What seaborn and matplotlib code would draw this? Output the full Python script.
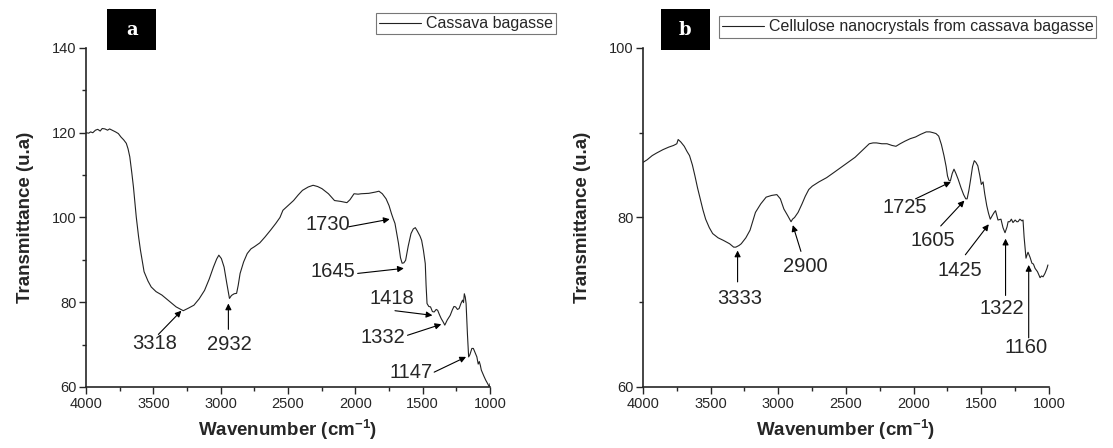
import matplotlib
matplotlib.use("Agg")
import matplotlib.pyplot as plt
from matplotlib.patches import Rectangle
from matplotlib.ticker import MultipleLocator
import seaborn as sns
import pandas as pd

# ===== DATA =====

wn_a = [4000, 3980, 3966, 3950, 3930, 3913, 3895, 3880, 3860, 3840, 3825, 3807,
        3781, 3760, 3741, 3720, 3701, 3688, 3675, 3660, 3648, 3627, 3610, 3596,
        3569, 3540, 3516, 3480, 3437, 3380, 3331, 3278, 3240, 3199, 3160, 3120,
        3085, 3054, 3030, 3014, 2995, 2975, 2955, 2935, 2920, 2900, 2882, 2870,
        2856, 2830, 2803, 2775, 2750, 2710, 2671, 2630, 2591, 2560, 2538, 2500,
        2459, 2425, 2393, 2350, 2314, 2280, 2248, 2200, 2155, 2110, 2063, 2040,
        2010, 1980, 1957, 1900, 1851, 1825, 1800, 1772, 1750, 1732, 1719, 1706,
        1693, 1680, 1665, 1653, 1640, 1627, 1608, 1587, 1570, 1555, 1540, 1520,
        1508, 1495, 1481, 1475, 1468, 1455, 1442, 1428, 1415, 1400, 1389, 1375,
        1362, 1349, 1336, 1318, 1296, 1280, 1268, 1256, 1242, 1230, 1215, 1204,
        1197, 1191, 1184, 1178, 1168, 1159, 1150, 1143, 1135, 1124, 1112, 1098,
        1088, 1080, 1072, 1065, 1058, 1045, 1032, 1018, 1005, 1000]
tr_a = [120.0, 119.9, 120.2, 120.0, 120.6, 120.8, 120.4, 121.0, 120.9, 120.6, 120.9, 120.6,
        120.2, 119.8, 119.0, 118.3, 117.5, 116.2, 114.3, 110.5, 107.2, 100.1, 95.5, 92.3,
        87.2, 85.0, 83.6, 82.5, 81.7, 80.2, 78.9, 78.0, 78.6, 79.3, 80.8, 82.8,
        85.5, 88.3, 90.2, 91.1, 90.3, 88.3, 84.5, 80.9, 81.6, 82.0, 82.1, 84.0,
        86.8, 89.5, 91.5, 92.6, 93.1, 94.0, 95.4, 97.0, 98.6, 100.0, 101.7, 102.8,
        104.0, 105.3, 106.4, 107.2, 107.6, 107.3, 106.8, 105.6, 104.0, 103.8, 103.5, 104.2,
        105.6, 105.5, 105.6, 105.7, 106.0, 106.2, 105.6, 104.4, 102.8, 100.9, 99.7, 98.6,
        96.3, 93.9, 90.5, 89.2, 89.3, 89.9, 93.2, 96.2, 97.3, 97.6, 96.8, 95.6,
        94.6, 92.3, 89.1, 84.0, 79.7, 79.0, 78.9, 77.8, 77.7, 78.3, 78.1, 77.0,
        76.1, 75.4, 74.6, 75.8, 76.9, 78.2, 79.0, 78.9, 78.3, 78.5, 79.8, 80.5,
        79.9, 82.0, 81.2, 79.7, 72.5, 67.1, 67.6, 68.3, 69.1, 69.1, 68.2, 67.1,
        65.4, 66.0, 65.1, 64.0, 63.5, 62.5, 61.6, 60.8, 60.0, 60.8]

wn_b = [4000, 3970, 3932, 3900, 3853, 3810, 3774, 3750, 3740, 3734, 3720, 3695,
        3675, 3656, 3635, 3616, 3597, 3577, 3557, 3537, 3510, 3485, 3445, 3406,
        3360, 3330, 3314, 3290, 3274, 3240, 3209, 3190, 3169, 3130, 3090, 3050,
        3011, 2985, 2959, 2930, 2906, 2895, 2880, 2854, 2825, 2801, 2775, 2749,
        2700, 2643, 2590, 2538, 2485, 2433, 2380, 2328, 2300, 2275, 2235, 2197,
        2160, 2131, 2100, 2065, 2025, 1986, 1950, 1907, 1880, 1855, 1835, 1815,
        1795, 1776, 1760, 1750, 1740, 1729, 1715, 1702, 1688, 1671, 1650, 1631,
        1615, 1605, 1592, 1579, 1565, 1552, 1540, 1526, 1512, 1500, 1487, 1475,
        1460, 1447, 1434, 1420, 1405, 1395, 1385, 1377, 1355, 1340, 1325, 1310,
        1302, 1290, 1278, 1266, 1250, 1238, 1229, 1215, 1200, 1192, 1184, 1170,
        1162, 1155, 1140, 1126, 1115, 1103, 1085, 1066, 1055, 1044, 1030, 1015, 1008]
tr_b = [86.5, 86.8, 87.3, 87.6, 88.0, 88.3, 88.5, 88.7, 89.2, 89.1, 88.9, 88.4,
        87.8, 87.3, 86.2, 84.9, 83.5, 82.2, 80.9, 79.8, 78.8, 78.1, 77.6, 77.3,
        76.9, 76.5, 76.5, 76.7, 76.9, 77.6, 78.5, 79.5, 80.6, 81.6, 82.4, 82.6,
        82.7, 82.2, 81.0, 80.2, 79.5, 79.8, 80.0, 80.6, 81.6, 82.5, 83.3, 83.7,
        84.2, 84.7, 85.3, 85.9, 86.5, 87.1, 87.9, 88.7, 88.8, 88.8, 88.7, 88.7,
        88.5, 88.4, 88.7, 89.0, 89.3, 89.5, 89.8, 90.1, 90.1, 90.0, 89.9, 89.6,
        88.6, 87.3, 86.0, 84.9, 84.4, 84.3, 85.2, 85.7, 85.2, 84.5, 83.5, 82.7,
        82.2, 82.2, 83.2, 84.5, 86.0, 86.7, 86.5, 86.1, 85.0, 83.9, 84.2, 82.8,
        81.4, 80.5, 79.8, 80.2, 80.6, 80.8, 80.2, 79.7, 79.8, 78.8, 78.2, 78.9,
        79.5, 79.5, 79.8, 79.4, 79.7, 79.5, 79.5, 79.8, 79.6, 79.7, 77.7, 75.2,
        75.6, 75.9, 75.3, 74.6, 74.5, 74.0, 73.6, 72.9, 73.1, 73.0, 73.4, 74.0, 74.4]

# peak labels: (label, text x, text y, arrow tail x, tail y, arrow head x, head y)
peaks_a = [("3318", 3490, 70.2, 3463, 72.4, 3292, 78.0),
           ("2932", 2935, 70.1, 2943, 73.6, 2943, 79.7),
           ("1730", 2208, 98.3, 2050, 97.8, 1745, 99.6),
           ("1645", 2168, 87.2, 1983, 86.8, 1640, 88.0),
           ("1418", 1727, 80.9, 1706, 78.0, 1428, 76.9),
           ("1332", 1798, 71.6, 1613, 72.2, 1362, 74.8),
           ("1147", 1587, 63.5, 1415, 63.5, 1178, 67.1)]
peaks_b = [("3333", 3282, 70.4, 3301, 72.4, 3301, 76.1),
           ("2900", 2801, 74.2, 2833, 76.0, 2893, 79.1),
           ("1725", 2065, 81.2, 1986, 82.2, 1725, 84.2),
           ("1605", 1855, 77.3, 1800, 79.0, 1625, 82.0),
           ("1425", 1658, 73.8, 1618, 75.6, 1445, 79.2),
           ("1322", 1350, 69.3, 1321, 70.8, 1321, 77.5),
           ("1160", 1166, 64.7, 1150, 65.8, 1150, 74.4)]

df_a = pd.DataFrame({"wn": wn_a, "tr": tr_a})
df_b = pd.DataFrame({"wn": wn_b, "tr": tr_b})

# ===== STYLE =====

sns.set_style("ticks")
plt.rcParams["font.family"] = ["Liberation Sans", "DejaVu Sans"]

fig = plt.figure(figsize=(11.13, 4.48), dpi=100)
ax_a = fig.add_axes([0.0773, 0.1362, 0.3630, 0.7567])
ax_b = fig.add_axes([0.5777, 0.1362, 0.3648, 0.7567])


def draw_panel(ax, df, ylim, legend_label, peaks, letter, box_x, legend_box):
    sns.lineplot(data=df, x="wn", y="tr", ax=ax, color="#222222", lw=0.8,
                 label=legend_label)
    ax.set_xlim(4000, 1000)
    ax.set_ylim(*ylim)
    ax.xaxis.set_major_locator(MultipleLocator(500))
    ax.xaxis.set_minor_locator(MultipleLocator(250))
    ax.yaxis.set_major_locator(MultipleLocator(20))
    ax.yaxis.set_minor_locator(MultipleLocator(10))
    ax.tick_params(which="major", direction="out", length=5, width=1.0,
                   labelsize=10.5, pad=2)
    ax.tick_params(which="minor", direction="out", length=3, width=1.0)
    for s in ["top", "right"]:
        ax.spines[s].set_visible(False)
    for s in ["left", "bottom"]:
        ax.spines[s].set_linewidth(1.2)
    ax.set_xlabel("Wavenumber (cm$^{\\mathregular{-1}}$)", fontsize=13.5,
                  fontweight="bold", labelpad=5)
    ax.set_ylabel("Transmittance (u.a)", fontsize=13.5, fontweight="bold",
                  labelpad=13)

    for lab, tx, ty, ax0, ay0, hx, hy in peaks:
        ax.text(tx, ty, lab, fontsize=14.5, ha="center", va="center")
        ax.annotate("", xy=(hx, hy), xytext=(ax0, ay0),
                    arrowprops=dict(arrowstyle="-|>", lw=0.8, color="black",
                                    mutation_scale=9, shrinkA=0, shrinkB=0))

    leg = ax.legend(loc="upper left", bbox_to_anchor=legend_box,
                    bbox_transform=fig.transFigure, frameon=True, fancybox=False,
                    fontsize=11.5, handlelength=2.6, handletextpad=0.3,
                    borderpad=0.2, borderaxespad=0)
    leg.get_frame().set_edgecolor("#555555")
    leg.get_frame().set_linewidth(0.8)

    # black label box with white letter
    fig.patches.append(Rectangle((box_x, 0.888), 0.044, 0.091,
                                 transform=fig.transFigure, facecolor="black",
                                 edgecolor="none"))
    fig.text(box_x + 0.022, 0.933, letter, color="white", fontsize=13,
             fontweight="bold", family="DejaVu Serif", ha="center", va="center")


draw_panel(ax_a, df_a, (60, 140), "Cassava bagasse", peaks_a, "a", 0.0965,
           (0.338, 0.971))
draw_panel(ax_b, df_b, (60, 100), "Cellulose nanocrystals from cassava bagasse",
           peaks_b, "b", 0.5935, (0.646, 0.964))

fig.savefig("out.png", dpi=100)
